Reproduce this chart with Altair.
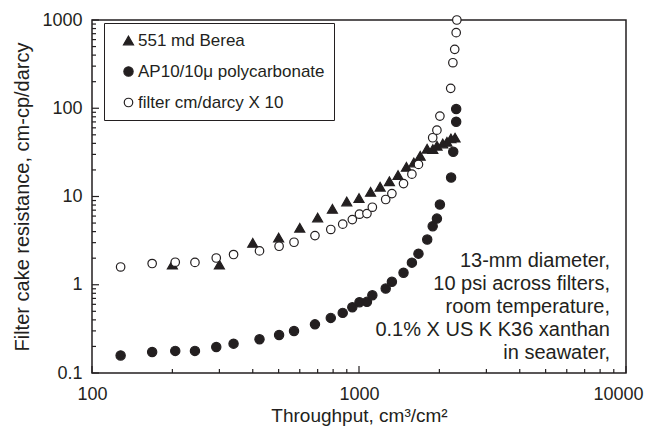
import altair as alt
import pandas as pd

# ---- data ----
series_names = ["551 md Berea", "AP10/10μ polycarbonate", "filter cm/darcy X 10"]

berea_x = [200, 300, 400, 500, 600, 700, 795, 900, 1000, 1105, 1200, 1300, 1400, 1505,
           1605, 1695, 1800, 1890, 1960, 2060, 2135, 2210, 2290]
berea_y = [1.69, 1.69, 2.98, 3.43, 4.42, 5.78, 7.24, 8.78, 9.58, 11.3, 12.9, 14.9, 17.5, 21.7,
           24.3, 28.9, 34.8, 34.5, 37.6, 39.9, 41.7, 45.5, 46.4]

ap_x = [128, 168, 205, 243, 292, 339, 424, 502, 571, 684, 784, 869, 944, 1004, 1071, 1122,
        1259, 1328, 1468, 1578, 1670, 1801, 1888, 1958, 2009, 2213, 2254, 2312, 2312]
ap_y = [0.158, 0.173, 0.178, 0.178, 0.197, 0.215, 0.241, 0.270, 0.299, 0.356, 0.421, 0.480,
        0.555, 0.634, 0.64, 0.760, 0.906, 1.08, 1.37, 1.78, 2.25, 3.25, 4.61, 5.62, 8.11,
        16.4, 32.1, 70.3, 98]

filt_x = [128, 168, 205, 243, 292, 339, 424, 502, 571, 684, 784, 869, 944, 1004, 1071, 1122,
          1259, 1328, 1468, 1578, 1670, 1888, 1958, 2009, 2205, 2247, 2283, 2312, 2325]
filt_y = [1.59, 1.74, 1.80, 1.79, 2.01, 2.20, 2.42, 2.73, 3.03, 3.61, 4.23, 4.86, 5.48, 6.3,
          6.4, 7.56, 9.25, 10.8, 14.0, 17.9, 23.1, 46.3, 56.5, 81.5, 168, 328, 465, 718, 1000]

x_ticks_major = [100, 1000, 10000]
y_ticks_major = [0.1, 1, 10, 100, 1000]
x_ticks_minor = [m * 10 ** k for k in (2, 3) for m in range(2, 10)]
y_ticks_minor = [round(m * 10.0 ** k, 6) for k in (-1, 0, 1, 2) for m in range(2, 10)]

note_lines = ["13-mm diameter,", "10 psi across filters,", "room temperature,",
              "0.1% X US K K36 xanthan", "in seawater,"]

df = pd.concat([
    pd.DataFrame({"x": berea_x, "y": berea_y, "series": series_names[0]}),
    pd.DataFrame({"x": ap_x, "y": ap_y, "series": series_names[1]}),
    pd.DataFrame({"x": filt_x, "y": filt_y, "series": series_names[2]}),
], ignore_index=True)

INK = "#231f20"
FONT = "Liberation Sans"
W, H = 534, 353

xscale = alt.Scale(type="log", domain=[100, 10000], nice=False)
yscale = alt.Scale(type="log", domain=[0.1, 1000], nice=False)

xaxis = alt.Axis(title="Throughput, cm³/cm²", values=x_ticks_major, labelExpr="'' + datum.value",
                 ticks=False, domain=False, grid=False, labelFlush=False, labelOverlap=False,
                 labelFontSize=18, labelFont=FONT, labelColor=INK, labelPadding=12,
                 labelOffset={"condition": {"test": "datum.value >= 10000", "value": -8}, "value": 0},
                 titleFontSize=19, titleFont=FONT, titleColor=INK, titleFontWeight="normal",
                 titleY=48, titleBaseline="alphabetic")
yaxis = alt.Axis(title="Filter cake resistance, cm-cp/darcy", values=y_ticks_major,
                 labelExpr="'' + datum.value", ticks=False, domain=False, grid=False,
                 labelFlush=False, labelOverlap=False,
                 labelFontSize=18, labelFont=FONT, labelColor=INK, labelPadding=10,
                 titleFontSize=20, titleFont=FONT, titleColor=INK, titleFontWeight="normal",
                 titleAngle=270, titleX=-64, titleY=H / 2, titleBaseline="alphabetic",
                 titleAlign="center")

leg = alt.Legend(title=None, orient="none", legendX=12, legendY=3, strokeColor=INK,
                 fillColor="white", padding=9, rowPadding=13, symbolOffset=7, labelOffset=1,
                 labelFontSize=17, labelFont=FONT, labelColor=INK, labelLimit=400,
                 symbolStrokeColor=INK, symbolStrokeWidth=1.2)

pts = alt.Chart(df).mark_point(filled=True, opacity=1, strokeWidth=1.2).encode(
    x=alt.X("x:Q", scale=xscale, axis=xaxis),
    y=alt.Y("y:Q", scale=yscale, axis=yaxis),
    shape=alt.Shape("series:N", scale=alt.Scale(domain=series_names,
                                                range=["triangle-up", "circle", "circle"]), legend=leg),
    fill=alt.Fill("series:N", scale=alt.Scale(domain=series_names, range=[INK, INK, "white"]), legend=leg),
    stroke=alt.Stroke("series:N", scale=alt.Scale(domain=series_names, range=[INK, INK, INK]), legend=leg),
    size=alt.Size("series:N", scale=alt.Scale(domain=series_names, range=[100, 72, 72]), legend=leg),
)

def yrules(vals, length):
    return alt.Chart(pd.DataFrame({"v": vals})).mark_rule(color=INK, strokeWidth=1.2).encode(
        y=alt.Y("v:Q", scale=yscale, axis=yaxis), x=alt.value(0), x2=alt.value(length))

def xrules(vals, length):
    return alt.Chart(pd.DataFrame({"v": vals})).mark_rule(color=INK, strokeWidth=1.2).encode(
        x=alt.X("v:Q", scale=xscale, axis=xaxis), y=alt.value(H), y2=alt.value(H - length))

note = alt.Chart(pd.DataFrame({"t": ["\n".join(note_lines)]})).mark_text(
    align="right", baseline="top", lineBreak="\n", lineHeight=23, fontSize=20,
    font=FONT, color=INK).encode(text="t:N", x=alt.value(518), y=alt.value(231))

chart = alt.layer(
    yrules(y_ticks_major, 7), yrules(y_ticks_minor, 4),
    xrules(x_ticks_major, 7), xrules(x_ticks_minor, 4),
    pts, note,
).properties(
    width=W, height=H,
    autosize=alt.AutoSizeParams(type="none"),
    padding={"left": 84, "top": 12, "right": 18, "bottom": 53},
    background="white",
).configure_view(stroke=INK, strokeWidth=1.5)

chart.save("out.html", embed_options={"renderer": "svg", "actions": False})
